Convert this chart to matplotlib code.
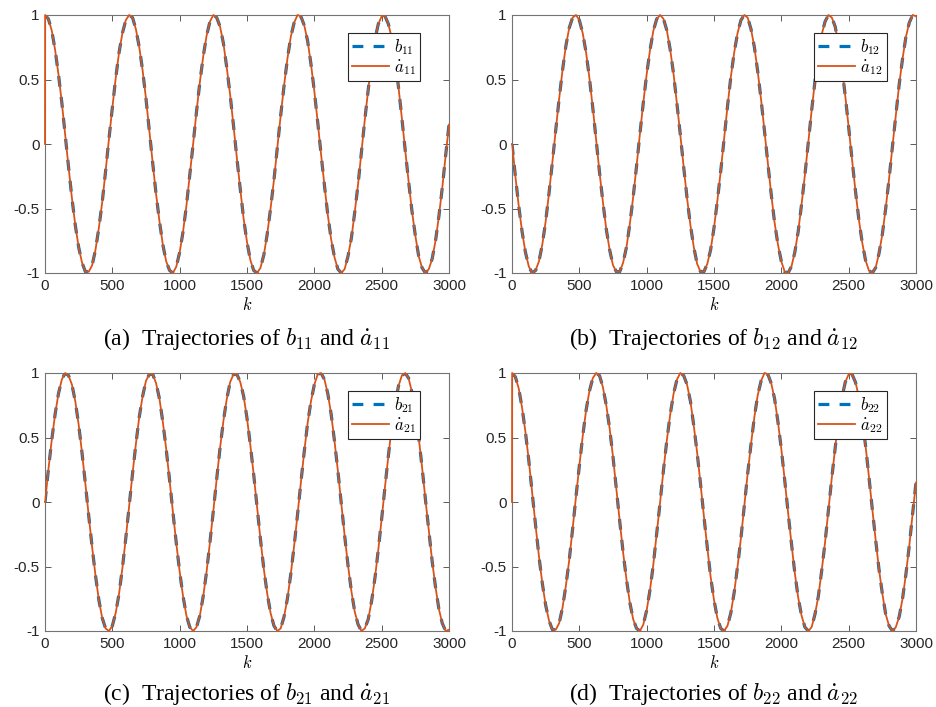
import numpy as np
import matplotlib
matplotlib.use("Agg")
import matplotlib.pyplot as plt

plt.rcParams["mathtext.fontset"] = "cm"
plt.rcParams["font.family"] = ["Liberation Sans", "DejaVu Sans"]

######################################################################
# readings, every 25 steps of k
######################################################################

k = np.arange(0, 3001, 25)

b11 = [1.00, 0.97, 0.88, 0.73, 0.54, 0.32, 0.07, -0.18, -0.42, -0.63,
       -0.80, -0.92, -0.99, -0.99, -0.94, -0.82, -0.65, -0.45, -0.21, 0.04,
       0.28, 0.51, 0.71, 0.86, 0.96, 1.00, 0.98, 0.89, 0.75, 0.57,
       0.35, 0.10, -0.15, -0.39, -0.60, -0.78, -0.91, -0.98, -1.00, -0.95,
       -0.84, -0.68, -0.48, -0.24, 0.00, 0.25, 0.48, 0.68, 0.84, 0.95,
       1.00, 0.98, 0.91, 0.78, 0.59, 0.38, 0.14, -0.11, -0.35, -0.58,
       -0.76, -0.90, -0.98, -1.00, -0.96, -0.86, -0.70, -0.50, -0.28, -0.03,
       0.22, 0.45, 0.66, 0.83, 0.94, 1.00, 0.99, 0.92, 0.80, 0.62,
       0.41, 0.17, -0.08, -0.32, -0.55, -0.74, -0.88, -0.97, -1.00, -0.97,
       -0.87, -0.73, -0.53, -0.31, -0.06, 0.19, 0.42, 0.64, 0.81, 0.93,
       0.99, 0.99, 0.93, 0.82, 0.65, 0.44, 0.20, -0.05, -0.29, -0.52,
       -0.71, -0.87, -0.96, -1.00, -0.97, -0.89, -0.75, -0.56, -0.34, -0.09,
       0.15]

b21 = [0.00, 0.25, 0.48, 0.68, 0.84, 0.95, 1.00, 0.98, 0.91, 0.78,
       0.60, 0.38, 0.14, -0.11, -0.35, -0.57, -0.76, -0.90, -0.98, -1.00,
       -0.96, -0.86, -0.71, -0.51, -0.28, -0.03, 0.22, 0.45, 0.66, 0.82,
       0.94, 0.99, 0.99, 0.92, 0.80, 0.62, 0.41, 0.17, -0.08, -0.32,
       -0.54, -0.73, -0.88, -0.97, -1.00, -0.97, -0.88, -0.73, -0.54, -0.31,
       -0.07, 0.18, 0.42, 0.63, 0.80, 0.93, 0.99, 0.99, 0.93, 0.82,
       0.65, 0.44, 0.21, -0.04, -0.29, -0.52, -0.71, -0.86, -0.96, -1.00,
       -0.98, -0.89, -0.75, -0.56, -0.34, -0.10, 0.15, 0.39, 0.61, 0.78,
       0.91, 0.99, 1.00, 0.95, 0.84, 0.68, 0.47, 0.24, -0.01, -0.26,
       -0.49, -0.69, -0.85, -0.95, -1.00, -0.98, -0.91, -0.77, -0.59, -0.37,
       -0.13, 0.12, 0.36, 0.58, 0.76, 0.90, 0.98, 1.00, 0.96, 0.85,
       0.70, 0.50, 0.27, 0.02, -0.22, -0.46, -0.66, -0.83, -0.94, -1.00,
       -0.99]

b12 = [0.00, -0.25, -0.48, -0.68, -0.84, -0.95, -1.00, -0.98, -0.91, -0.78,
       -0.60, -0.38, -0.14, 0.11, 0.35, 0.57, 0.76, 0.90, 0.98, 1.00,
       0.96, 0.86, 0.71, 0.51, 0.28, 0.03, -0.22, -0.45, -0.66, -0.82,
       -0.94, -0.99, -0.99, -0.92, -0.80, -0.62, -0.41, -0.17, 0.08, 0.32,
       0.54, 0.73, 0.88, 0.97, 1.00, 0.97, 0.88, 0.73, 0.54, 0.31,
       0.07, -0.18, -0.42, -0.63, -0.80, -0.93, -0.99, -0.99, -0.93, -0.82,
       -0.65, -0.44, -0.21, 0.04, 0.29, 0.52, 0.71, 0.86, 0.96, 1.00,
       0.98, 0.89, 0.75, 0.56, 0.34, 0.10, -0.15, -0.39, -0.61, -0.78,
       -0.91, -0.99, -1.00, -0.95, -0.84, -0.68, -0.47, -0.24, 0.01, 0.26,
       0.49, 0.69, 0.85, 0.95, 1.00, 0.98, 0.91, 0.77, 0.59, 0.37,
       0.13, -0.12, -0.36, -0.58, -0.76, -0.90, -0.98, -1.00, -0.96, -0.85,
       -0.70, -0.50, -0.27, -0.02, 0.22, 0.46, 0.66, 0.83, 0.94, 1.00,
       0.99]

b22 = b11   # same trajectory as b11

# the estimates start from zero and lock on after the first step
a_init = [0.0, 0.0, 0.0, 0.0]
k_lock = 1

subs = ["11", "12", "21", "22"]
series = [b11, b12, b21, b22]
tags = ["(a)", "(b)", "(c)", "(d)"]

xticks = [0, 500, 1000, 1500, 2000, 2500, 3000]
yticks = [-1, -0.5, 0, 0.5, 1]
yticklabels = ["-1", "-0.5", "0", "0.5", "1"]

blue = "#0072BD"
orange = "#D95319"

######################################################################
# figure
######################################################################

W, H = 936, 707
fig = plt.figure(figsize=(W / 100, H / 100), dpi=100)

lefts = [45, 512]
tops = [15, 373]
aw, ah = 404, 258
caption_y = [339, 694]

for i in range(4):
    r, c = divmod(i, 2)
    x0, y0 = lefts[c], tops[r]
    ax = fig.add_axes([x0 / W, 1 - (y0 + ah) / H, aw / W, ah / H])

    b = np.array(series[i])
    ka = np.r_[0, k_lock, k[1:]]
    a = np.r_[a_init[i], b[0], b[1:]]

    ax.plot(k, b, color=blue, lw=2.3, ls="--", dashes=(3.4, 3.2),
            label=r"$b_{%s}$" % subs[i])
    ax.plot(ka, a, color=orange, lw=1.3, zorder=3, clip_on=False,
            label=r"$\dot{a}_{%s}$" % subs[i])

    ax.set_xlim(0, 3000)
    ax.set_ylim(-1, 1)
    ax.set_xticks(xticks)
    ax.set_xticklabels([str(t) for t in xticks])
    ax.set_yticks(yticks)
    ax.set_yticklabels(yticklabels)
    ax.tick_params(direction="in", top=True, right=True, length=4,
                   width=0.6, color="0.25", labelcolor="0.15",
                   labelsize=11, pad=4)
    for sp in ax.spines.values():
        sp.set_color("0.45")
        sp.set_linewidth(0.8)

    ax.set_xlabel("$k$", fontsize=12)
    ax.xaxis.set_label_coords(0.5, -0.124)
    ax.xaxis.label.set_va("center")

    leg = ax.legend(loc="upper right", bbox_to_anchor=(0.928, 0.930),
                    fontsize=12, fancybox=False, framealpha=1,
                    edgecolor="0.15", handlelength=2.2, borderpad=0.25,
                    labelspacing=0.05, handletextpad=0.3, borderaxespad=0)
    leg.get_frame().set_linewidth(0.8)
    leg.set_zorder(5)

    fig.text((x0 + aw / 2) / W, 1 - caption_y[r] / H,
             r"%s  Trajectories of $b_{%s}$ and $\dot{a}_{%s}$"
             % (tags[i], subs[i], subs[i]),
             ha="center", va="center", fontsize=17,
             family=["Liberation Serif", "DejaVu Serif"])

fig.savefig("out.png", dpi=100)
